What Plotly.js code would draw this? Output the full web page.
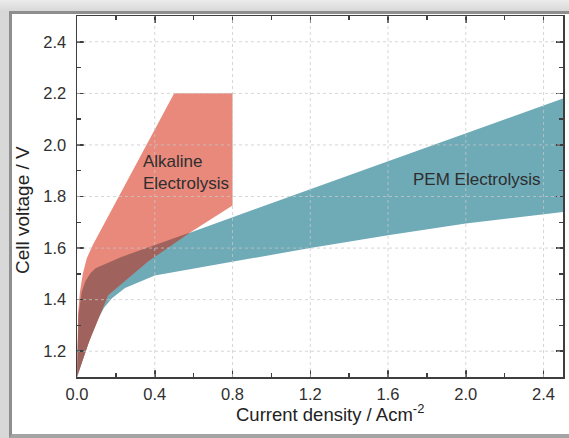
<!DOCTYPE html>
<html>
<head>
<meta charset="utf-8">
<script src="https://cdn.plot.ly/plotly-3.0.1.min.js"></script>
<style>
  html, body { margin: 0; padding: 0; background: #ffffff; }
  #frame {
    position: relative; width: 569px; height: 438px; overflow: hidden;
    background: linear-gradient(to bottom, #ececec 0px, #d8d8d8 11px, #d8d8d8 100%);
  }
  #panel {
    position: absolute; left: 9px; top: 11px; width: 570px; height: 420px;
    background: #ffffff;
    border-left: 3px solid #8e8e8e;
    border-top: 3px solid #8e8e8e;
    border-bottom: 4px solid #a4a4a4;
  }
  #chart { position: absolute; left: 0; top: 0; width: 569px; height: 438px; }
</style>
</head>
<body>
<div id="frame">
  <div id="panel"></div>
  <div id="chart"></div>
</div>
<script>
// Operating windows of the two electrolyser types (current density in A/cm², cell voltage in V)
const alkUpperX = [0, 0.002, 0.006, 0.015, 0.03, 0.05, 0.08, 0.5, 0.8];
const alkUpperY = [1.1, 1.25, 1.35, 1.43, 1.5, 1.56, 1.61, 2.2, 2.2];
const alkLowerX = [0, 0.012, 0.038, 0.073, 0.108, 0.16, 0.247, 0.4, 0.586, 0.8];
const alkLowerY = [1.1, 1.133, 1.185, 1.262, 1.326, 1.417, 1.475, 1.569, 1.662, 1.765];

const pemUpperX = [0, 0.003, 0.008, 0.018, 0.035, 0.06, 0.09, 0.15, 0.25, 0.4, 0.8, 1.5, 2.5];
const pemUpperY = [1.1, 1.25, 1.34, 1.41, 1.46, 1.495, 1.52, 1.542, 1.572, 1.61, 1.72, 1.91, 2.18];
const pemLowerX = [0, 0.012, 0.038, 0.073, 0.108, 0.14, 0.18, 0.247, 0.4, 0.77, 1.2, 1.6, 2.0, 2.5];
const pemLowerY = [1.1, 1.133, 1.185, 1.262, 1.326, 1.37, 1.405, 1.445, 1.494, 1.543, 1.6, 1.65, 1.695, 1.74];

// Axis ticks / grid positions
const xGridVals = [0.4, 0.8, 1.2, 1.6, 2.0, 2.4];
const yGridVals = [1.2, 1.4, 1.6, 1.8, 2.0, 2.2, 2.4];

const labels = {
  alkaline: 'Alkaline<br>Electrolysis',
  pem: 'PEM Electrolysis',
  xTitle: 'Current density / Acm<sup>-2</sup>',
  yTitle: 'Cell voltage / V'
};

const colors = { pem: '#6faab7', alk: '#e8897c', overlap: '#a0625d' };
const FONT = 'Liberation Sans, Arial, sans-serif';

// closed polygon: upper boundary forward, lower boundary backward
function band(ux, uy, lx, ly) {
  return {
    x: ux.concat(lx.slice().reverse()),
    y: uy.concat(ly.slice().reverse())
  };
}

function interp(xs, ys, x) {
  if (x <= xs[0]) return ys[0];
  for (let i = 1; i < xs.length; i++) {
    if (x <= xs[i]) {
      const t = (x - xs[i - 1]) / (xs[i] - xs[i - 1]);
      return ys[i - 1] + t * (ys[i] - ys[i - 1]);
    }
  }
  return ys[ys.length - 1];
}

// region covered by both windows
function overlapBand() {
  const top = [], bot = [], xs = [];
  const xMax = Math.min(alkUpperX[alkUpperX.length - 1], pemUpperX[pemUpperX.length - 1]);
  for (let i = 0; i * 0.001 <= xMax + 1e-9; i++) {
    const x = i * 0.001;
    const lo = Math.max(interp(alkLowerX, alkLowerY, x), interp(pemLowerX, pemLowerY, x));
    const hi = Math.min(interp(alkUpperX, alkUpperY, x), interp(pemUpperX, pemUpperY, x));
    if (hi >= lo) { xs.push(x); top.push(hi); bot.push(lo); }
    else if (xs.length) break;
  }
  return band(xs, top, xs, bot);
}

const pem = band(pemUpperX, pemUpperY, pemLowerX, pemLowerY);
const alk = band(alkUpperX, alkUpperY, alkLowerX, alkLowerY);
const both = overlapBand();

const traces = [
  { x: pem.x, y: pem.y, type: 'scatter', mode: 'lines', fill: 'toself',
    fillcolor: colors.pem, line: { width: 0, color: colors.pem }, hoverinfo: 'skip', showlegend: false },
  { x: alk.x, y: alk.y, type: 'scatter', mode: 'lines', fill: 'toself',
    fillcolor: colors.alk, line: { width: 0, color: colors.alk }, hoverinfo: 'skip', showlegend: false },
  { x: both.x, y: both.y, type: 'scatter', mode: 'lines', fill: 'toself',
    fillcolor: colors.overlap, line: { width: 0, color: colors.overlap }, hoverinfo: 'skip', showlegend: false }
];

// dotted grid drawn over the filled bands
const gridLine = { color: 'rgba(200,200,200,0.75)', width: 1, dash: 'dot' };
const shapes = [];
xGridVals.forEach(v => shapes.push({ type: 'line', xref: 'x', yref: 'paper', x0: v, x1: v, y0: 0, y1: 1, line: gridLine, layer: 'above' }));
yGridVals.forEach(v => shapes.push({ type: 'line', xref: 'paper', yref: 'y', x0: 0, x1: 1, y0: v, y1: v, line: gridLine, layer: 'above' }));

const axisCommon = {
  showline: true, linecolor: '#3e3e3e', linewidth: 1.5, mirror: 'allticks',
  ticks: 'inside', ticklen: 7, tickwidth: 1.5, tickcolor: '#3e3e3e',
  showgrid: false, zeroline: false, layer: 'above traces',
  tickfont: { family: FONT, size: 16.5, color: '#303030' },
  tickformat: '.1f', fixedrange: true
};

const layout = {
  width: 569, height: 438,
  margin: { l: 77, r: 6, t: 16, b: 61 },
  paper_bgcolor: 'rgba(0,0,0,0)', plot_bgcolor: 'rgba(0,0,0,0)',
  showlegend: false,
  xaxis: Object.assign({}, axisCommon, {
    range: [0, 2.5], tick0: 0, dtick: 0.4, ticklabelstandoff: 2,
    minor: { dtick: 0.2, ticks: 'inside', ticklen: 4, tickwidth: 1.5, tickcolor: '#3e3e3e', showgrid: false }
  }),
  yaxis: Object.assign({}, axisCommon, {
    range: [1.1, 2.5], tick0: 0, dtick: 0.2, ticklabelstandoff: 6,
    minor: { dtick: 0.1, ticks: 'inside', ticklen: 4, tickwidth: 1.5, tickcolor: '#3e3e3e', showgrid: false }
  }),
  shapes: shapes,
  annotations: [
    { x: 0.33, y: 1.894, xref: 'x', yref: 'y', xanchor: 'left', yanchor: 'middle', align: 'left',
      text: labels.alkaline, showarrow: false,
      font: { family: FONT, size: 17, color: '#2e2e2e' } },
    { x: 1.716, y: 1.865, xref: 'x', yref: 'y', xanchor: 'left', yanchor: 'middle',
      text: labels.pem, showarrow: false,
      font: { family: FONT, size: 17, color: '#2e2e2e' } },
    { x: 0.5206, y: -0.1, xref: 'paper', yref: 'paper', xanchor: 'center', yanchor: 'middle',
      text: labels.xTitle, showarrow: false,
      font: { family: FONT, size: 18.5, color: '#222222' } },
    { x: -0.113, y: 0.4626, xref: 'paper', yref: 'paper', xanchor: 'center', yanchor: 'middle',
      text: labels.yTitle, textangle: -90, showarrow: false,
      font: { family: FONT, size: 19, color: '#222222' } }
  ]
};

Plotly.newPlot('chart', traces, layout, { displayModeBar: false, staticPlot: true });
</script>
</body>
</html>
